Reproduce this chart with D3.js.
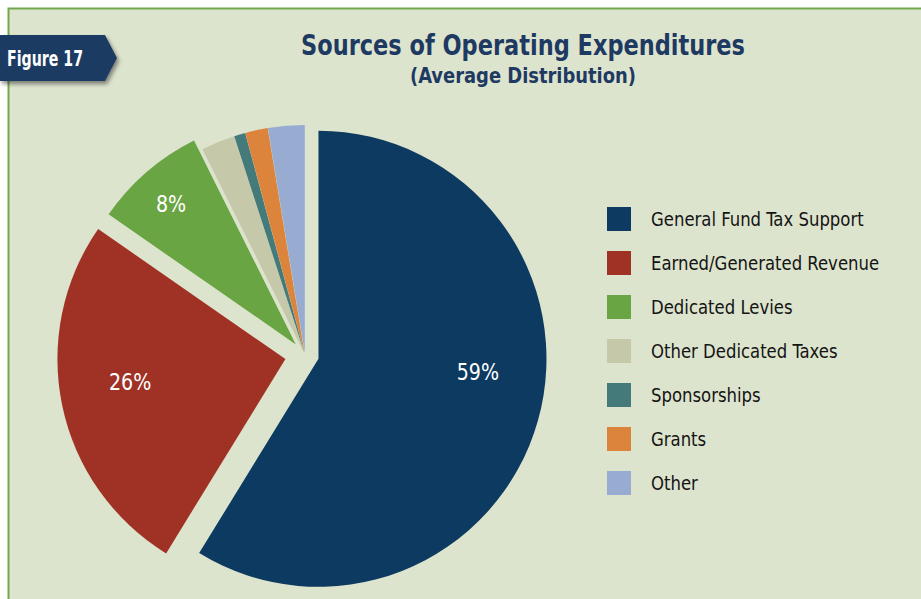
<!DOCTYPE html>
<html><head><meta charset="utf-8">
<script src="https://cdn.jsdelivr.net/npm/d3@7"></script>
<style>body{margin:0;background:#fff;} svg{display:block}</style></head>
<body>
<svg id="c" width="921" height="599"></svg>
<script>
const categories = ["General Fund Tax Support","Earned/Generated Revenue","Dedicated Levies","Other Dedicated Taxes","Sponsorships","Grants","Other"];
const values = [59, 26, 8, 2.4, 0.8, 1.6, 2.6];
const valueLabels = ["59%","26%","8%","","","",""];
const colors = ["#0c3a60","#a03125","#6aa543","#c6c8aa","#457a7a","#dc843c","#98acd2"];
const titleText = "Sources of Operating Expenditures";
const subtitleText = "(Average Distribution)";
const figureText = "Figure 17";

const svg = d3.select("#c");
const FONT = "'DejaVu Sans Condensed','DejaVu Sans',sans-serif";

const defs = svg.append("defs");
const f = defs.append("filter").attr("id","sh").attr("x","-10%").attr("y","-10%").attr("width","130%").attr("height","140%");
f.append("feDropShadow").attr("dx",2).attr("dy",3).attr("stdDeviation",2).attr("flood-color","#000").attr("flood-opacity",0.45);

// frame
svg.append("rect").attr("x",8.5).attr("y",8.5).attr("width",1000).attr("height",1000)
  .attr("fill","#dde4ce").attr("stroke","#72a84b").attr("stroke-width",2);

// figure tag
svg.append("path").attr("d","M0,35 L105,35 L117,58 L105,81 L0,81 Z").attr("fill","#1b3a63").attr("filter","url(#sh)");
svg.append("text").attr("x",7).attr("y",66).text(figureText)
  .attr("fill","#fff").attr("font-family",FONT).attr("font-weight","bold").attr("font-size",22)
  .attr("textLength",76).attr("lengthAdjust","spacingAndGlyphs");

// titles
svg.append("text").attr("x",523).attr("y",55).attr("text-anchor","middle").text(titleText)
  .attr("fill","#1e3a62").attr("font-family",FONT).attr("font-weight","bold").attr("font-size",29)
  .attr("textLength",444).attr("lengthAdjust","spacingAndGlyphs");
svg.append("text").attr("x",523).attr("y",83).attr("text-anchor","middle").text(subtitleText)
  .attr("fill","#1e3a62").attr("font-family",FONT).attr("font-weight","bold").attr("font-size",21)
  .attr("textLength",226).attr("lengthAdjust","spacingAndGlyphs");

// pie
const cx = 305, cy = 355, R = 228;
const explode = [14, 20, 14, 2, 2, 2, 2];
const labelAdj = [-11, 3.4, -0.7, 0, 0, 0, 0];
const labelR = [160, 157, 188, 0, 0, 0, 0];
const pie = d3.pie().sort(null).value(d => d);
const arcs = pie(values);
const arc = d3.arc().innerRadius(0).outerRadius(R);
const toXY = (ang, r) => [r * Math.sin(ang), -r * Math.cos(ang)];

const g = svg.append("g").attr("transform", `translate(${cx},${cy})`);
const slices = g.selectAll("g.s").data(arcs).join("g").attr("class","s")
  .attr("transform", (d,i) => {
    const m = (d.startAngle + d.endAngle) / 2;
    const [dx, dy] = toXY(m, explode[i]);
    return `translate(${dx},${dy})`;
  });
slices.append("path").attr("d", arc).attr("fill", (d,i) => colors[i]);
slices.filter((d,i) => valueLabels[i]).append("text")
  .attr("transform", (d,i) => {
    const m = (d.startAngle + d.endAngle) / 2 + labelAdj[i] * Math.PI / 180;
    const [x, y] = toXY(m, labelR[i]);
    return `translate(${x},${y})`;
  })
  .attr("text-anchor","middle").attr("dy","0.36em")
  .attr("fill","#fff").attr("font-family",FONT).attr("font-size",23)
  .text((d,i) => valueLabels[i])
  .each(function(){ const w = this.getComputedTextLength(); d3.select(this).attr("textLength", w*0.92).attr("lengthAdjust","spacingAndGlyphs"); });

// legend
const lg = svg.append("g").attr("transform","translate(607,207)");
const items = lg.selectAll("g").data(categories).join("g")
  .attr("transform", (d,i) => `translate(0,${i*44})`);
items.append("rect").attr("width",24).attr("height",24).attr("fill",(d,i)=>colors[i]);
items.append("text").attr("x",44).attr("y",12).attr("dy","0.36em")
  .attr("fill","#141414").attr("font-family",FONT).attr("font-size",19.5)
  .text(d => d)
  .each(function(){ const w = this.getComputedTextLength(); d3.select(this).attr("textLength", w*0.94).attr("lengthAdjust","spacingAndGlyphs"); });
</script>
</body></html>
